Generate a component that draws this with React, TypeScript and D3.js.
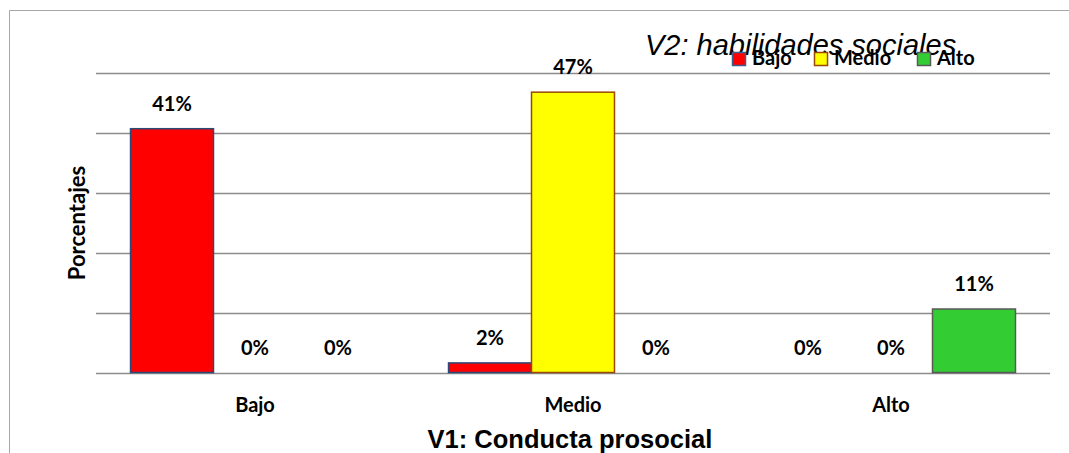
import React from "react";
import * as d3 from "d3";

// datos
const categories = ["Bajo", "Medio", "Alto"];
const seriesNames = ["Bajo", "Medio", "Alto"];
const bajoValues = [40.7, 1.6, 0];
const medioValues = [0, 46.8, 0];
const altoValues = [0, 0, 10.6];
const valueLabels = [
  ["41%", "0%", "0%"],
  ["2%", "47%", "0%"],
  ["0%", "0%", "11%"],
];
const yTicks = [0, 10, 20, 30, 40, 50];

const fills = ["#FF0000", "#FFFF00", "#33CC33"];
const strokes = ["#2B4A78", "#984807", "#595959"];

const width = 1069;
const height = 453;
const margin = { top: 73, right: 19, bottom: 80.5, left: 96 };

const App: React.FC = () => {
  const series = [bajoValues, medioValues, altoValues];

  const x0 = d3
    .scaleBand<string>()
    .domain(categories)
    .range([margin.left, width - margin.right])
    .padding(0);

  const x1 = d3
    .scaleBand<string>()
    .domain(seriesNames)
    .range([0, x0.bandwidth()])
    .paddingInner(0)
    .paddingOuter(0.416);

  const y = d3
    .scaleLinear()
    .domain([0, 50])
    .range([height - margin.bottom, margin.top]);

  const font = "Lato, 'Open Sans', sans-serif";
  const arial = "'Liberation Sans', Arial, sans-serif";

  return (
    <svg
      width={width}
      height={height}
      style={{ position: "absolute", left: 0, top: 0, background: "#fff" }}
    >
      {/* marco */}
      <line x1={9.5} y1={10.5} x2={width} y2={10.5} stroke="#A6A6A6" />
      <line x1={9.5} y1={10.5} x2={9.5} y2={height} stroke="#A6A6A6" />

      {/* líneas de cuadrícula */}
      {yTicks.map((t) => (
        <line
          key={t}
          x1={margin.left}
          x2={width - margin.right}
          y1={Math.round(y(t)) + 0.5}
          y2={Math.round(y(t)) + 0.5}
          stroke="#8C8C8C"
          strokeWidth={1.6}
        />
      ))}

      {/* barras */}
      {categories.map((cat, ci) => (
        <g key={cat} transform={`translate(${x0(cat)},0)`}>
          {seriesNames.map((s, si) => {
            const v = series[si][ci];
            const bx = x1(s) ?? 0;
            return (
              <g key={s}>
                {v > 0 && (
                  <rect
                    x={bx}
                    y={y(v)}
                    width={x1.bandwidth()}
                    height={y(0) - y(v)}
                    fill={fills[si]}
                    stroke={strokes[si]}
                    strokeWidth={1.5}
                  />
                )}
                <text
                  x={bx + x1.bandwidth() / 2}
                  y={y(v) - 18}
                  textAnchor="middle"
                  fontFamily={font}
                  fontWeight="bold"
                  fontSize={20}
                  fill="#000"
                >
                  {valueLabels[ci][si]}
                </text>
              </g>
            );
          })}
          <text
            x={x0.bandwidth() / 2}
            y={412}
            textAnchor="middle"
            fontFamily={font}
            fontWeight="bold"
            fontSize={20}
          >
            {cat}
          </text>
        </g>
      ))}

      {/* títulos de ejes */}
      <text
        x={570}
        y={448}
        textAnchor="middle"
        fontFamily={arial}
        fontWeight="bold"
        fontSize={25.5}
      >
        V1: Conducta prosocial
      </text>
      <text
        transform={`translate(85,${223}) rotate(-90)`}
        textAnchor="middle"
        fontFamily={font}
        fontWeight="bold"
        fontSize={22}
      >
        Porcentajes
      </text>

      {/* leyenda */}
      <text x={645} y={55} fontFamily={arial} fontStyle="italic" fontSize={29}>
        V2: habilidades sociales
      </text>
      {seriesNames.map((s, si) => {
        const lx = [732, 814, 917][si];
        return (
          <g key={s}>
            <rect
              x={lx + 0.5}
              y={52.5}
              width={13}
              height={13}
              fill={fills[si]}
              stroke={si === 0 ? "#3B5E8C" : strokes[si]}
              strokeWidth={1.5}
            />
            <text
              x={lx + 20}
              y={65}
              fontFamily={font}
              fontWeight="bold"
              fontSize={20}
            >
              {s}
            </text>
          </g>
        );
      })}
    </svg>
  );
};

export default App;
